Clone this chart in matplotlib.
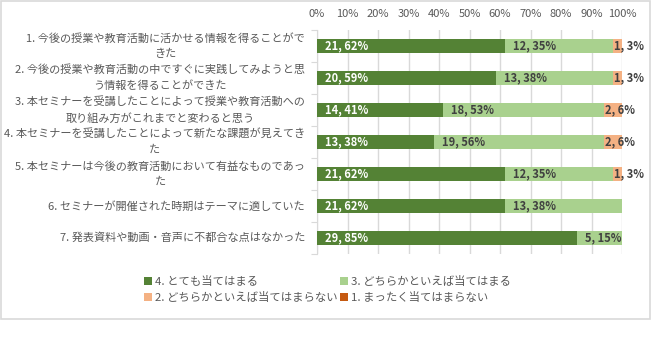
import numpy as np
import matplotlib
matplotlib.use("Agg")
import matplotlib.pyplot as plt
from matplotlib.patches import Rectangle
from matplotlib.ticker import FixedLocator, NullFormatter

plt.rcParams['font.family'] = ['Noto Sans CJK JP', 'DejaVu Sans']

# questions (y categories), wrapped like the original
questions = [
    "1. 今後の授業や教育活動に活かせる情報を得ることがで\nきた",
    "2. 今後の授業や教育活動の中ですぐに実践してみようと思\nう情報を得ることができた",
    "3. 本セミナーを受講したことによって授業や教育活動への\n取り組み方がこれまでと変わると思う",
    "4. 本セミナーを受講したことによって新たな課題が見えてき\nた",
    "5. 本セミナーは今後の教育活動において有益なものであっ\nた",
    "6. セミナーが開催された時期はテーマに適していた",
    "7. 発表資料や動画・音声に不都合な点はなかった",
]

series_names = ["4. とても当てはまる", "3. どちらかといえば当てはまる",
                "2. どちらかといえば当てはまらない", "1. まったく当てはまらない"]
# response counts per question
very = [21, 20, 14, 13, 21, 21, 29]
somewhat = [12, 13, 18, 19, 12, 13, 5]
somewhat_not = [1, 1, 2, 2, 1, 0, 0]
not_at_all = [0, 0, 0, 0, 0, 0, 0]

colors = ["#548235", "#A9D18E", "#F4B183", "#C55A11"]
label_colors = ["white", "#404040", "#404040", "#404040"]
grey = "#595959"

W, H = 655, 340
fig = plt.figure(figsize=(W / 100, H / 100), dpi=100)
fig.patches.append(Rectangle((0.5 / W, 1 - 319 / H), 649 / W, 318.5 / H,
                             transform=fig.transFigure, fill=False,
                             edgecolor="#D9D9D9", linewidth=1.2))

ax = fig.add_axes([317 / W, 1 - 254 / H, 305 / W, 224 / H])

counts = np.array([very, somewhat, somewhat_not, not_at_all], dtype=float)
totals = counts.sum(axis=0)
pct = counts / totals * 100
y = np.arange(len(questions))

left = np.zeros(len(questions))
for i in range(4):
    ax.barh(y, pct[i], left=left, height=0.42, color=colors[i],
            label=series_names[i], zorder=3)
    for j in range(len(questions)):
        if counts[i, j] > 0:
            pad = 8 if pct[i, j] > 10 else 1
            ax.annotate(f"{int(counts[i, j])}, {pct[i, j]:.0f}%",
                        xy=(left[j], y[j]), xytext=(pad, 0),
                        textcoords="offset pixels", va="center", ha="left",
                        fontsize=8, fontweight="bold",
                        color=label_colors[i], zorder=4)
    left += pct[i]

ax.set_xlim(0, 100)
ax.set_ylim(len(questions) - 0.5, -0.5)
ax.xaxis.tick_top()
ax.set_xticks(np.arange(0, 101, 10))
ax.set_xticklabels([f"{v}%" for v in range(0, 101, 10)])
ax.tick_params(axis="x", length=0, pad=8, labelsize=8, colors=grey)
ax.grid(axis="x", color="#D9D9D9", linewidth=1, zorder=0)

# category boundaries get the tick marks, labels are drawn as text
ax.yaxis.set_major_locator(FixedLocator(np.arange(-0.5, len(questions), 1)))
ax.yaxis.set_major_formatter(NullFormatter())
ax.tick_params(axis="y", which="major", length=4, color="#D9D9D9")
for j, q in enumerate(questions):
    ax.annotate(q, xy=(0, y[j]), xytext=(-12, 0), textcoords="offset pixels",
                ha="right", va="center", multialignment="center",
                linespacing=1.6, fontsize=8, color=grey,
                annotation_clip=False)

for s in ["top", "right", "bottom"]:
    ax.spines[s].set_visible(False)
ax.spines["left"].set_color("#D9D9D9")

# legend order so that columns read 4,2 | 3,1 like the original
handles, labels = ax.get_legend_handles_labels()
order = [0, 2, 1, 3]
fig.legend([handles[k] for k in order], [labels[k] for k in order],
           loc="upper left", bbox_to_anchor=(138 / W, 1 - 270 / H), ncol=2,
           frameon=False, fontsize=8.2, labelcolor=grey, handlelength=0.7,
           handleheight=0.7, handletextpad=0.3, columnspacing=0.2,
           borderpad=0, labelspacing=0.5)

fig.savefig("out.png", dpi=100)
